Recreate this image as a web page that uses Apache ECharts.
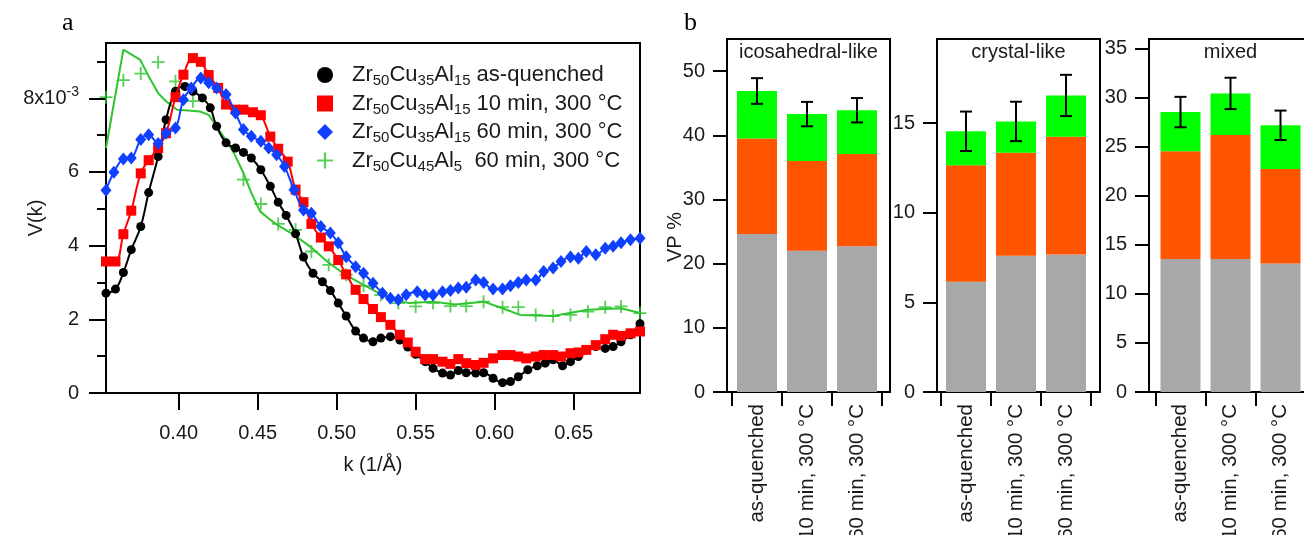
<!DOCTYPE html>
<html><head><meta charset="utf-8">
<script src="https://cdn.jsdelivr.net/npm/echarts@6/dist/echarts.min.js"></script>
<style>html,body{margin:0;padding:0;background:#fff}#c{width:1304px;height:535px}</style>
</head><body><div id="c"></div>
<script>
// ---------- panel a : V(k) in units of 1e-3 ----------
const blackPts = [[0.354,2.71],[0.360,2.82],[0.365,3.27],[0.370,3.89],[0.376,4.52],[0.381,5.44],[0.387,6.42],[0.392,7.42],[0.398,8.19],[0.404,8.32],[0.409,8.19],[0.415,8.01],[0.420,7.74],[0.424,7.24],[0.430,6.79],[0.436,6.65],[0.441,6.53],[0.446,6.38],[0.452,6.06],[0.458,5.61],[0.463,5.18],[0.468,4.82],[0.474,4.32],[0.479,3.69],[0.485,3.25],[0.491,3.02],[0.496,2.78],[0.501,2.44],[0.506,2.09],[0.512,1.68],[0.517,1.49],[0.523,1.39],[0.528,1.49],[0.534,1.53],[0.540,1.44],[0.545,1.25],[0.550,1.05],[0.556,0.85],[0.561,0.67],[0.567,0.54],[0.572,0.49],[0.577,0.61],[0.582,0.55],[0.588,0.54],[0.593,0.55],[0.599,0.40],[0.605,0.28],[0.610,0.31],[0.615,0.44],[0.621,0.63],[0.627,0.74],[0.632,0.81],[0.637,0.90],[0.643,0.74],[0.648,0.85],[0.653,0.99],[0.658,1.17],[0.664,1.26],[0.670,1.21],[0.675,1.26],[0.680,1.39],[0.686,1.58],[0.692,1.88]];
const redPts = [[0.354,3.57],[0.360,3.57],[0.365,4.31],[0.370,4.95],[0.376,5.96],[0.381,6.32],[0.387,6.65],[0.392,7.05],[0.398,8.03],[0.403,8.64],[0.409,9.09],[0.414,8.99],[0.419,8.63],[0.425,8.28],[0.430,7.83],[0.436,7.69],[0.441,7.69],[0.447,7.62],[0.452,7.54],[0.458,6.96],[0.463,6.63],[0.469,6.28],[0.474,5.52],[0.479,5.18],[0.484,4.59],[0.490,4.22],[0.495,3.98],[0.501,3.61],[0.506,3.22],[0.512,2.80],[0.517,2.55],[0.523,2.28],[0.528,2.06],[0.534,1.85],[0.540,1.58],[0.545,1.37],[0.550,1.12],[0.556,0.92],[0.561,0.92],[0.567,0.85],[0.572,0.79],[0.577,0.92],[0.582,0.81],[0.588,0.76],[0.593,0.82],[0.599,0.94],[0.605,1.03],[0.610,1.03],[0.615,0.99],[0.620,0.94],[0.626,0.99],[0.631,1.03],[0.637,1.03],[0.642,0.99],[0.648,1.08],[0.653,1.10],[0.658,1.17],[0.664,1.30],[0.670,1.46],[0.675,1.58],[0.680,1.55],[0.686,1.62],[0.692,1.67]];
const bluePts = [[0.354,5.50],[0.359,5.99],[0.365,6.35],[0.370,6.38],[0.376,6.88],[0.381,7.01],[0.387,6.77],[0.392,7.05],[0.398,7.19],[0.403,7.96],[0.408,8.28],[0.414,8.55],[0.419,8.42],[0.424,8.28],[0.430,8.10],[0.436,7.60],[0.441,7.15],[0.446,6.97],[0.452,6.83],[0.457,6.65],[0.462,6.47],[0.467,6.15],[0.473,5.52],[0.479,4.97],[0.484,4.88],[0.490,4.52],[0.496,4.34],[0.501,4.07],[0.506,3.70],[0.512,3.43],[0.517,3.25],[0.523,2.98],[0.529,2.71],[0.534,2.57],[0.539,2.53],[0.544,2.67],[0.551,2.75],[0.556,2.66],[0.561,2.66],[0.567,2.75],[0.572,2.78],[0.577,2.85],[0.582,2.87],[0.588,3.07],[0.593,3.00],[0.599,2.82],[0.605,2.82],[0.610,2.91],[0.615,3.00],[0.620,3.07],[0.626,3.07],[0.631,3.30],[0.637,3.39],[0.642,3.57],[0.648,3.69],[0.653,3.66],[0.658,3.84],[0.664,3.75],[0.670,3.93],[0.675,3.98],[0.680,4.08],[0.686,4.16],[0.692,4.20]];
const greenPts = [[0.354,8.03],[0.365,8.49],[0.376,8.67],[0.387,8.98],[0.398,8.46],[0.409,7.92],[0.441,5.79],[0.452,5.13],[0.463,4.59],[0.474,4.43],[0.484,3.84],[0.495,3.48],[0.506,3.21],[0.517,2.91],[0.528,2.66],[0.539,2.44],[0.550,2.35],[0.561,2.44],[0.572,2.36],[0.582,2.36],[0.593,2.48],[0.605,2.33],[0.615,2.33],[0.626,2.12],[0.637,2.09],[0.648,2.12],[0.659,2.21],[0.670,2.33],[0.680,2.35],[0.692,2.17]];
const greenFit = [[0.354,6.65],[0.365,9.32],[0.3755,9.05],[0.381,8.60],[0.387,8.14],[0.392,7.92],[0.399,7.69],[0.406,7.67],[0.4135,7.64],[0.419,7.55],[0.424,7.24],[0.429,6.92],[0.435,6.51],[0.441,5.97],[0.446,5.43],[0.4515,4.93],[0.458,4.70],[0.464,4.52],[0.473,4.29],[0.483,3.98],[0.494,3.57],[0.504,3.25],[0.515,2.98],[0.525,2.75],[0.536,2.53],[0.546,2.44],[0.561,2.48],[0.575,2.40],[0.593,2.48],[0.605,2.30],[0.616,2.12],[0.637,2.09],[0.659,2.26],[0.680,2.30],[0.692,2.17]];
const seriesNames = ['Zr50Cu35Al15 as-quenched','Zr50Cu35Al15 10 min, 300 °C','Zr50Cu35Al15 60 min, 300 °C','Zr50Cu45Al5  60 min, 300 °C'];
const xTicksA = [0.40,0.45,0.50,0.55,0.60,0.65];
const yTicksA = [0,2,4,6,8];
const yMinorA = [1,3,5,7,9];

// ---------- panel b : VP % ----------
const barCats = ['as-quenched','10 min, 300 °C','60 min, 300 °C'];
const panelTitles = ['icosahedral-like','crystal-like','mixed'];
const graySeg   = [[24.6,22.0,22.7],[6.15,7.6,7.67],[13.57,13.57,13.1]];
const orangeSeg = [[14.9,14.0,14.4],[6.5,5.75,6.58],[10.98,12.63,9.65]];
const greenSeg  = [[7.4,7.3,6.8],[1.9,1.75,2.3],[4.0,4.25,4.45]];
const errBar    = [[2.0,1.9,1.9],[1.1,1.1,1.15],[1.55,1.6,1.5]];
const yMaxB     = [55,19.7,36];
const yTicksB   = [[0,10,20,30,40,50],[0,5,10,15],[0,5,10,15,20,25,30,35]];

const FONT = 'Liberation Sans, Arial, sans-serif';
const TXT = '#1a1a1a';
const plusPath = 'path://M4.3,0h1.4v4.3h4.3v1.4h-4.3v4.3h-1.4v-4.3h-4.3v-1.4h4.3z';

function legendFmt(name){
  const m = name.match(/^Zr(\d+)Cu(\d+)Al(\d+)(.*)$/);
  return '{t|Zr}{s|'+m[1]+'}{t|Cu}{s|'+m[2]+'}{t|Al}{s|'+m[3]+'}{t|'+m[4]+'}';
}

const grid = [{left:106, top:43, width:534, height:350, show:true, borderColor:'#000', borderWidth:2, outerBoundsMode:'none'}];
const xAxis = [{
  gridIndex:0, type:'value', min:0.354, max:0.692,
  axisLine:{onZero:false, lineStyle:{color:'#000', width:2}},
  axisTick:{customValues:xTicksA, length:17, lineStyle:{color:'#000', width:2}},
  axisLabel:{customValues:xTicksA, formatter:v=>v.toFixed(2), fontSize:20, color:TXT, fontFamily:FONT, margin:30},
  splitLine:{show:false},
  name:'k (1/Å)', nameLocation:'middle', nameGap:62, nameMoveOverlap:false,
  nameTextStyle:{fontSize:20, color:TXT, fontFamily:FONT}
}];
const yAxis = [{
  gridIndex:0, type:'value', min:0, max:9.5, position:'left',
  axisLine:{lineStyle:{color:'#000', width:2}},
  axisTick:{customValues:yTicksA, length:17, lineStyle:{color:'#000', width:2}},
  axisLabel:{customValues:yTicksA, margin:27, formatter:v=> v===8 ? '{n|8x10}{p|-3}' : '{n|'+v+'}',
    rich:{n:{fontSize:20, color:TXT, fontFamily:FONT}, p:{fontSize:14, color:TXT, fontFamily:FONT, verticalAlign:'top', padding:[0,0,12,0]}}},
  splitLine:{show:false},
  name:'V(k)', nameLocation:'middle', nameGap:60, nameMoveOverlap:false,
  nameTextStyle:{fontSize:20, color:TXT, fontFamily:FONT}
},{
  gridIndex:0, type:'value', min:0, max:9.5, position:'left', offset:0,
  axisLine:{show:false},
  axisTick:{customValues:yMinorA, length:9, lineStyle:{color:'#000', width:2}},
  axisLabel:{show:false}, splitLine:{show:false}
}];

const series = [
  {type:'line', name:'greenFit', xAxisIndex:0, yAxisIndex:0, data:greenFit, symbol:'none', lineStyle:{color:'#2ec52e', width:2}, z:2},
  {type:'scatter', name:seriesNames[3], xAxisIndex:0, yAxisIndex:0, data:greenPts, symbol:plusPath, symbolSize:13, itemStyle:{color:'#2ec52e'}, z:3},
  {type:'line', name:seriesNames[0], xAxisIndex:0, yAxisIndex:0, data:blackPts, symbol:'circle', symbolSize:9, smooth:0.4, lineStyle:{color:'#000', width:2}, itemStyle:{color:'#000'}, z:4},
  {type:'line', name:seriesNames[1], xAxisIndex:0, yAxisIndex:0, data:redPts, symbol:'rect', symbolSize:10, smooth:0.4, lineStyle:{color:'#ff0000', width:2}, itemStyle:{color:'#ff0000'}, z:5},
  {type:'line', name:seriesNames[2], xAxisIndex:0, yAxisIndex:0, data:bluePts, symbol:'diamond', symbolSize:[11,13], smooth:0.4, lineStyle:{color:'#1040ff', width:2}, itemStyle:{color:'#1040ff'}, z:6}
];

const frameLeft = [727, 937, 1149];
const dataLeft  = [732, 941, 1155.5];
const graphic = [
  {type:'text', x:62, y:10, style:{text:'a', font:'26px "Liberation Serif", "Times New Roman", serif', fill:'#000'}},
  {type:'text', x:684, y:10, style:{text:'b', font:'26px "Liberation Serif", "Times New Roman", serif', fill:'#000'}},
  {type:'text', x:675, y:237, rotation:Math.PI/2, style:{text:'VP %', font:'20px '+FONT, fill:TXT, align:'center', verticalAlign:'middle'}}
];

for (let p=0; p<3; p++){
  const gF = grid.length, gD = gF+1;
  grid.push({left:frameLeft[p], top:39, width:163, height:353, show:true, borderColor:'#000', borderWidth:2, outerBoundsMode:'none'});
  grid.push({left:dataLeft[p], top:39, width:150, height:353, outerBoundsMode:'none'});
  const xF = xAxis.length;
  xAxis.push({gridIndex:gF, type:'value', show:false, min:0, max:1});
  xAxis.push({gridIndex:gD, type:'category', data:barCats,
    axisLine:{show:false},
    axisTick:{show:true, length:14, lineStyle:{color:'#000', width:2}},
    axisLabel:{rotate:90, interval:0, fontSize:20.5, color:TXT, fontFamily:FONT, margin:12}});
  const yF = yAxis.length;
  yAxis.push({gridIndex:gF, type:'value', min:0, max:yMaxB[p],
    axisLine:{show:true, lineStyle:{color:'#000', width:2}},
    axisTick:{customValues:yTicksB[p], length:14, lineStyle:{color:'#000', width:2}},
    axisLabel:{customValues:yTicksB[p], fontSize:20, color:TXT, fontFamily:FONT, margin:22},
    splitLine:{show:false}});
  yAxis.push({gridIndex:gD, type:'value', min:0, max:yMaxB[p], show:false});
  const xi = xF+1, yi = yF+1;
  const stack = 'b'+p;
  series.push({type:'bar', xAxisIndex:xi, yAxisIndex:yi, stack, barWidth:40, data:graySeg[p], itemStyle:{color:'#a8a8a8'}});
  series.push({type:'bar', xAxisIndex:xi, yAxisIndex:yi, stack, barWidth:40, data:orangeSeg[p], itemStyle:{color:'#ff5500'}});
  series.push({type:'bar', xAxisIndex:xi, yAxisIndex:yi, stack, barWidth:40, data:greenSeg[p], itemStyle:{color:'#00ff00'}});
  const errData = barCats.map((c,i)=>{
    const tot = graySeg[p][i]+orangeSeg[p][i]+greenSeg[p][i];
    return [i, tot-errBar[p][i], tot+errBar[p][i]];
  });
  series.push({type:'custom', xAxisIndex:xi, yAxisIndex:yi, data:errData, z:10,
    renderItem:(params, api)=>{
      const lo = api.coord([api.value(0), api.value(1)]);
      const hi = api.coord([api.value(0), api.value(2)]);
      const x = lo[0], w = 6, st = {stroke:'#000', lineWidth:2};
      return {type:'group', children:[
        {type:'line', shape:{x1:x, y1:lo[1], x2:x, y2:hi[1]}, style:st},
        {type:'line', shape:{x1:x-w, y1:lo[1], x2:x+w, y2:lo[1]}, style:st},
        {type:'line', shape:{x1:x-w, y1:hi[1], x2:x+w, y2:hi[1]}, style:st}
      ]};
    }});
  graphic.push({type:'text', x:frameLeft[p]+81.5, y:52, style:{text:panelTitles[p], font:'20px '+FONT, fill:TXT, align:'center', verticalAlign:'middle'}});
}

const chart = echarts.init(document.getElementById('c'), null, {renderer:'canvas'});
chart.setOption({
  animation:false,
  textStyle:{fontFamily:FONT},
  grid, xAxis, yAxis, series, graphic,
  legend:{
    orient:'vertical', left:312, top:59, itemGap:4, itemWidth:16, itemHeight:16, selectedMode:false,
    data:[{name:seriesNames[0], icon:'circle'},{name:seriesNames[1], icon:'rect'},{name:seriesNames[2], icon:'diamond'},{name:seriesNames[3], icon:plusPath}],
    formatter:legendFmt,
    textStyle:{padding:[0,0,0,14], rich:{
      t:{fontSize:22, color:TXT, fontFamily:FONT},
      s:{fontSize:15, color:TXT, fontFamily:FONT, verticalAlign:'bottom', padding:[12,0,0,0]}
    }}
  }
});
</script></body></html>
